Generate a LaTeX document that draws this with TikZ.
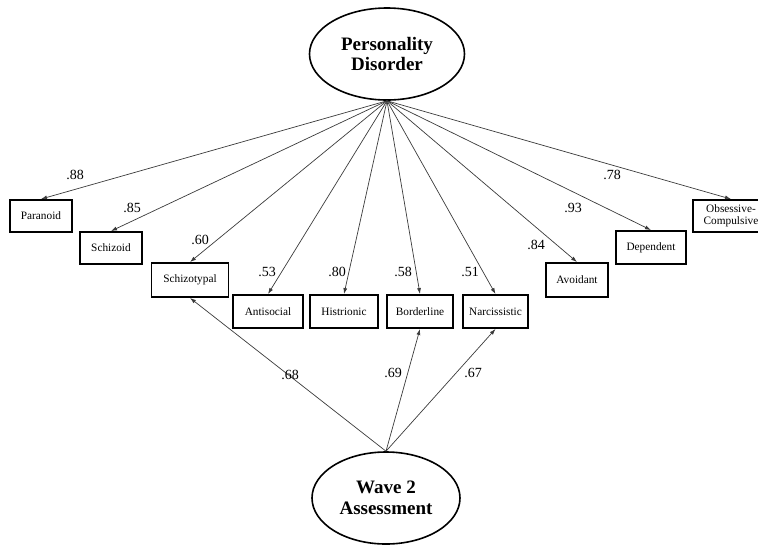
\documentclass[tikz,border=0pt]{standalone}
\usepackage{fontspec}
\setmainfont{Liberation Serif}
\usepackage{tikz}
\usetikzlibrary{shapes.geometric,arrows.meta}
\definecolor{linegray}{HTML}{3A3A3A}
\tikzset{
  latent/.style={draw, ellipse, line width=1.6pt, minimum width=155pt, minimum height=92pt, inner sep=0pt, align=center, font=\fontsize{19}{20.5}\selectfont\bfseries},
  indicator/.style={draw, line width=1.9pt, minimum height=32pt, inner sep=1pt, align=center, font=\fontsize{11.3}{12}\selectfont},
  loading/.style={draw=linegray, line width=0.7pt, -{Latex[length=6pt,width=4pt]}},
  lab/.style={font=\fontsize{14}{15}\selectfont},
}

\begin{document}
\begin{tikzpicture}[x=1pt,y=-1pt]
\useasboundingbox (0,0) rectangle (758,547);

% latent factors
\node[latent] (pd) at (387,54) {Personality\\Disorder};
\node[latent, minimum width=148pt] (wave) at (386,498) {Wave 2\\Assessment};

% indicators
\node[indicator, minimum width=62pt] (par) at (41,216) {Paranoid};
\node[indicator, minimum width=62pt] (szd) at (111,248) {Schizoid};
\node[indicator, minimum width=77pt, minimum height=34pt] (szt) at (190,280) {Schizotypal};
\node[indicator, minimum width=70pt, minimum height=33pt] (ant) at (268,311.5) {Antisocial};
\node[indicator, minimum width=68pt, minimum height=33pt] (his) at (344,311.5) {Histrionic};
\node[indicator, minimum width=66pt, minimum height=33pt] (bor) at (420,311.5) {Borderline};
\node[indicator, minimum width=65pt, minimum height=33pt] (nar) at (495.5,311.5) {Narcissistic};
\node[indicator, minimum width=62pt, minimum height=34pt] (avo) at (577,280) {Avoidant};
\node[indicator, minimum width=70pt, minimum height=33pt] (dep) at (651,247.5) {Dependent};
\node[indicator, minimum width=76pt] (obc) at (731,216) {Obsessive-\\Compulsive};

% loadings on personality disorder
\draw[loading] (pd.south) -- (par.north);
\draw[loading] (pd.south) -- (szd.north);
\draw[loading] (pd.south) -- (szt.north);
\draw[loading] (pd.south) -- (ant.north);
\draw[loading] (pd.south) -- (his.north);
\draw[loading] (pd.south) -- (bor.north);
\draw[loading] (pd.south) -- (nar.north);
\draw[loading] (pd.south) -- (avo.north);
\draw[loading] (pd.south) -- (dep.north);
\draw[loading] (pd.south) -- (obc.north);

% wave 2 paths
\draw[loading] (wave.north) -- (szt.south);
\draw[loading] (wave.north) -- (bor.south);
\draw[loading] (wave.north) -- (nar.south);

% coefficients
\node[lab] (lpar) at (75,175) {.88};
\node[lab] (lszd) at (132,208) {.85};
\node[lab] (lszt) at (200,240) {.60};
\node[lab] (lant) at (267,272) {.53};
\node[lab] (lhis) at (337,272) {.80};
\node[lab] (lbor) at (403,272) {.58};
\node[lab] (lnar) at (470,272) {.51};
\node[lab] (lavo) at (536,245) {.84};
\node[lab] (ldep) at (573,208) {.93};
\node[lab] (lobc) at (612,175) {.78};
\node[lab] (wszt) at (290,375) {.68};
\node[lab] (wbor) at (393,373) {.69};
\node[lab] (wnar) at (473,373) {.67};
\end{tikzpicture}
\end{document}
